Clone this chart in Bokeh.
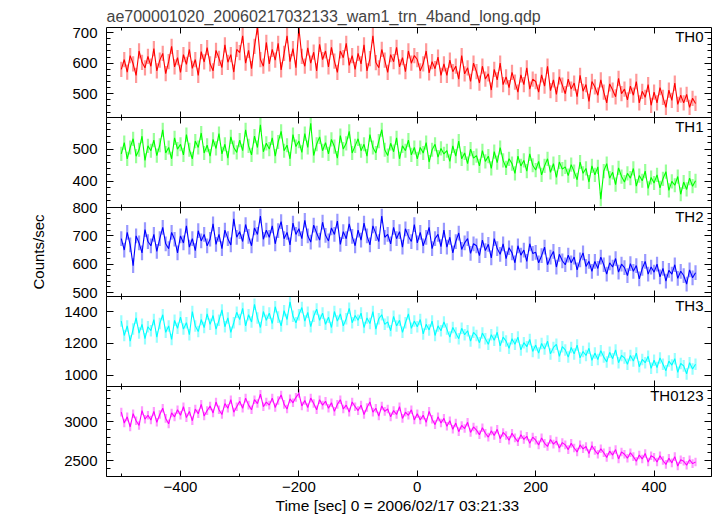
from bokeh.plotting import figure
from bokeh.layouts import column
from bokeh.models import LinearAxis, SingleIntervalTicker, Range1d, Label, CustomJSTickFormatter, Title
from bokeh.embed import file_html
from bokeh.resources import INLINE
import numpy as np

# ---------------- data (5 s bins) ----------------
t_start = -500
t_step = 5

th0 = [580, 612, 571, 625, 598, 560, 640, 603, 585, 622,
       590, 648, 575, 610, 632, 566, 605, 655, 588, 618,
       570, 628, 596, 645, 583, 612, 560, 638, 604, 651,
       598, 575, 642, 616, 586, 660, 603, 628, 571, 645,
       635, 690, 600, 642, 582, 655, 718, 612, 590, 668,
       598, 645, 610, 665, 578, 632, 690, 605, 648, 585,
       715, 622, 590, 650, 600, 636, 575, 662, 612, 640,
       588, 652, 607, 570, 640, 618, 665, 593, 625, 580,
       632, 598, 660, 575, 615, 690, 602, 585, 645, 610,
       570, 628, 605, 652, 588, 618, 572, 640, 600, 625,
       612, 575, 598, 640, 568, 605, 582, 620, 560, 598,
       560, 610, 572, 590, 548, 625, 565, 585, 540, 600,
       572, 535, 590, 548, 565, 512, 580, 545, 600, 530,
       555, 520, 570, 538, 505, 562, 530, 585, 515, 548,
       540, 505, 562, 525, 590, 510, 545, 498, 555, 528,
       500, 548, 515, 535, 490, 560, 508, 530, 475, 540,
       522, 495, 545, 505, 470, 532, 512, 490, 550, 500,
       515, 480, 525, 495, 540, 470, 508, 488, 530, 462,
       505, 470, 520, 488, 455, 512, 478, 535, 465, 495,
       470, 498, 455, 485, 468]

th1 = [485, 520, 470, 505, 532, 478, 498, 540, 465, 510,
       495, 528, 480, 512, 560, 488, 505, 470, 535, 500,
       515, 482, 545, 498, 470, 525, 505, 550, 488, 512,
       478, 530, 502, 548, 485, 515, 472, 538, 505, 490,
       528, 495, 560, 510, 482, 540, 505, 575, 492, 518,
       500, 535, 478, 522, 555, 495, 512, 470, 545, 508,
       525, 490, 548, 505, 580, 480, 515, 538, 495, 520,
       485, 530, 508, 472, 542, 500, 518, 555, 488, 510,
       532, 495, 515, 478, 545, 505, 488, 525, 560, 498,
       480, 518, 492, 535, 470, 510, 495, 528, 482, 505,
       470, 505, 488, 520, 460, 498, 515, 475, 502, 485,
       495, 462, 510, 478, 525, 470, 488, 455, 500, 472,
       480, 448, 495, 462, 478, 440, 492, 458, 505, 465,
       442, 470, 455, 425, 478, 448, 465, 432, 485, 450,
       435, 462, 420, 448, 470, 428, 455, 412, 460, 438,
       445, 418, 452, 430, 405, 460, 425, 440, 398, 448,
       420, 445, 345, 432, 455, 410, 428, 390, 442, 415,
       398, 425, 410, 440, 385, 418, 402, 432, 378, 412,
       395, 420, 380, 408, 430, 372, 400, 388, 415, 360,
       398, 375, 410, 385, 402]

th2 = [690, 650, 712, 668, 595, 700, 675, 640, 722, 680,
       665, 705, 645, 690, 730, 672, 655, 712, 688, 640,
       700, 675, 735, 660, 690, 648, 718, 682, 705, 665,
       688, 742, 670, 705, 655, 720, 690, 668, 760, 695,
       715, 680, 740, 698, 665, 728, 705, 770, 688, 720,
       695, 735, 672, 718, 750, 690, 712, 668, 745, 705,
       725, 690, 755, 700, 678, 738, 710, 685, 748, 702,
       682, 728, 705, 752, 670, 715, 690, 742, 698, 665,
       720, 685, 745, 700, 668, 735, 708, 680, 770, 695,
       705, 672, 730, 690, 715, 660, 725, 698, 680, 740,
       675, 712, 665, 695, 730, 655, 690, 705, 662, 720,
       660, 695, 640, 680, 710, 652, 675, 690, 638, 672,
       665, 630, 685, 648, 670, 622, 690, 655, 635, 672,
       620, 658, 640, 605, 665, 632, 650, 610, 672, 638,
       642, 605, 630, 660, 598, 625, 645, 590, 635, 612,
       598, 632, 605, 625, 580, 615, 640, 592, 610, 575,
       610, 585, 625, 598, 565, 605, 590, 620, 572, 600,
       588, 560, 602, 575, 595, 548, 585, 610, 565, 590,
       572, 600, 555, 585, 540, 578, 565, 598, 550, 575,
       560, 530, 580, 552, 570]

th3 = [1340, 1250, 1310, 1215, 1290, 1360, 1265, 1320, 1230, 1305,
       1280, 1350, 1240, 1325, 1380, 1270, 1310, 1225, 1345, 1295,
       1365, 1290, 1330, 1255, 1400, 1310, 1275, 1350, 1300, 1385,
       1320, 1375, 1290, 1345, 1410, 1305, 1360, 1270, 1330, 1395,
       1350, 1420, 1310, 1380, 1335, 1445, 1360, 1300, 1400, 1345,
       1390, 1325, 1430, 1365, 1310, 1405, 1350, 1460, 1370, 1330,
       1380, 1425, 1340, 1395, 1305, 1370, 1415, 1345, 1390, 1320,
       1365, 1300, 1400, 1340, 1385, 1310, 1355, 1420, 1330, 1375,
       1345, 1390, 1300, 1360, 1325, 1400, 1290, 1355, 1380, 1320,
       1335, 1280, 1370, 1310, 1345, 1270, 1330, 1385, 1295, 1340,
       1305, 1350, 1260, 1320, 1285, 1340, 1250, 1310, 1280, 1335,
       1290, 1240, 1300, 1265, 1230, 1295, 1255, 1280, 1215, 1270,
       1250, 1205, 1265, 1230, 1195, 1255, 1220, 1270, 1185, 1240,
       1215, 1170, 1230, 1195, 1240, 1160, 1205, 1180, 1225, 1150,
       1190, 1140, 1200, 1165, 1215, 1135, 1175, 1195, 1120, 1180,
       1160, 1115, 1175, 1135, 1190, 1110, 1150, 1125, 1170, 1095,
       1140, 1100, 1155, 1115, 1085, 1145, 1105, 1160, 1080, 1125,
       1110, 1070, 1125, 1090, 1140, 1055, 1100, 1080, 1120, 1045,
       1095, 1050, 1110, 1070, 1030, 1090, 1065, 1105, 1020, 1075,
       1060, 1010, 1080, 1040, 1070]

th0123 = [3120, 2980, 3060, 2930, 3100, 3010, 2950, 3140, 3030, 3080,
          3020, 3130, 2990, 3090, 3170, 3040, 2970, 3110, 3060, 3150,
          3080, 3190, 3050, 3130, 3010, 3160, 3100, 3220, 3070, 3140,
          3200, 3110, 3250, 3150, 3090, 3230, 3170, 3280, 3120, 3190,
          3260, 3170, 3300, 3210, 3150, 3280, 3230, 3350, 3190, 3250,
          3210, 3300, 3180, 3270, 3340, 3220, 3160, 3290, 3240, 3310,
          3360, 3200, 3270, 3180, 3300, 3230, 3150, 3280, 3210, 3260,
          3170, 3240, 3130, 3220, 3280, 3160, 3210, 3120, 3250, 3190,
          3140, 3210, 3090, 3180, 3250, 3120, 3170, 3070, 3200, 3130,
          3160, 3060, 3140, 3090, 3190, 3040, 3120, 3080, 3150, 3020,
          3100, 3020, 3080, 2990, 3130, 3030, 2960, 3060, 2980, 3040,
          2940, 3010, 2900, 2980, 2870, 2950, 2910, 2990, 2860, 2930,
          2890, 2830, 2920, 2850, 2800, 2880, 2820, 2900, 2780, 2860,
          2820, 2760, 2850, 2790, 2740, 2830, 2770, 2810, 2720, 2800,
          2760, 2700, 2790, 2720, 2680, 2770, 2710, 2750, 2660, 2730,
          2700, 2640, 2720, 2660, 2610, 2700, 2650, 2680, 2590, 2690,
          2630, 2580, 2650, 2600, 2540, 2620, 2570, 2640, 2520, 2610,
          2580, 2530, 2600, 2550, 2490, 2570, 2520, 2590, 2480, 2560,
          2540, 2480, 2560, 2500, 2450, 2530, 2470, 2550, 2430, 2510,
          2490, 2440, 2510, 2460, 2480]

# 1-sigma error bar sizes per band
th0_err = 25
th1_err = 22
th2_err = 26
th3_err = 36
th0123_err = 55

band_names = ["TH0", "TH1", "TH2", "TH3", "TH0123"]

title_text = "ae700001020_20060217032133_wam1_trn_4band_long.qdp"
x_label = "Time [sec] 0 = 2006/02/17 03:21:33"
y_label = "Counts/sec"

# ---------------- layout / style ----------------
FONT = "Liberation Sans"
FS = "15px"
OV = 10  # transparent overlap border between stacked panels
n = len(th0)
time = np.array([t_start + t_step * i for i in range(n)], dtype=float)

panels = [
    (th0, th0_err, "#ff0000", (422, 717), 100, 5, 90),
    (th1, th1_err, "#00ff00", (319, 598), 100, 5, 90),
    (th2, th2_err, "#0000ff", (486, 800), 100, 5, 89),
    (th3, th3_err, "#00ffff", (931, 1494), 200, 2, 90),
    (th0123, th0123_err, "#ff00ff", (2295, 3449), 500, 5, 90),
]

empty_fmt = CustomJSTickFormatter(code="return ''")

x_range = Range1d(-525, 497)
figs = []
for i, (vals, err, color, yr, yint, ymin, fh) in enumerate(panels):
    first = i == 0
    last = i == len(panels) - 1
    p = figure(frame_width=605, frame_height=fh,
               x_range=x_range, y_range=Range1d(*yr),
               output_backend="svg", toolbar_location=None,
               x_axis_location=None, y_axis_location=None,
               min_border_left=106, min_border_right=6,
               min_border_top=27 if first else OV,
               min_border_bottom=40 if last else OV,
               outline_line_color=None,
               background_fill_alpha=0, border_fill_alpha=0,
               margin=(0 if first else -2 * OV, 0, 0, 0))
    p.grid.visible = False

    y = np.array(vals, dtype=float)
    p.segment(x0=time, y0=y - err, x1=time, y1=y + err,
              line_color=color, line_alpha=0.4, line_width=2.2)
    p.line(time, y, line_color=color, line_width=1.1)

    def style(ax, show_labels, major_in, minor_in):
        ax.axis_line_color = "black"
        ax.axis_line_width = 1
        ax.major_tick_line_color = "black"
        ax.minor_tick_line_color = "black"
        ax.major_tick_in = major_in
        ax.major_tick_out = 0
        ax.minor_tick_in = minor_in
        ax.minor_tick_out = 0
        ax.major_label_text_font = FONT
        ax.major_label_text_color = "black"
        ax.axis_label_text_font = FONT
        ax.axis_label_text_font_size = FS
        ax.axis_label_text_font_style = "normal"
        ax.axis_label_text_color = "black"
        if show_labels:
            ax.major_label_text_font_size = FS
        else:
            ax.formatter = empty_fmt
            ax.major_label_text_font_size = "1px"
            ax.major_label_standoff = 0

    for loc in ("below", "above"):
        ax = LinearAxis(ticker=SingleIntervalTicker(interval=200, num_minor_ticks=2))
        show = loc == "below" and last
        style(ax, show, 6, 3)
        if show:
            ax.major_label_standoff = 5
        p.add_layout(ax, loc)
    for loc in ("left", "right"):
        ax = LinearAxis(ticker=SingleIntervalTicker(interval=yint, num_minor_ticks=ymin))
        style(ax, loc == "left", 7, 4)
        if loc == "left":
            ax.major_label_standoff = 9
            if i == 2:
                ax.axis_label = y_label
                ax.axis_label_standoff = 22
        p.add_layout(ax, loc)

    p.add_layout(Label(x=597, y=fh, x_units="screen", y_units="screen",
                       text=band_names[i], text_align="right", text_baseline="top",
                       text_font=FONT, text_font_size=FS, text_color="black"))
    if last:
        xt = Title(text=x_label, align="left", offset=169, standoff=0,
                   text_font=FONT, text_font_size="15.5px", text_font_style="normal",
                   text_color="black")
        p.add_layout(xt, "below")
    if first:
        p.title.text = title_text
        p.title.text_font = FONT
        p.title.text_font_size = "16px"
        p.title.text_font_style = "normal"
        p.title.standoff = 5
        p.title.offset = 0
    figs.append(p)

layout = column(*figs, spacing=0)
open("out.html", "w").write(file_html(layout, INLINE))
